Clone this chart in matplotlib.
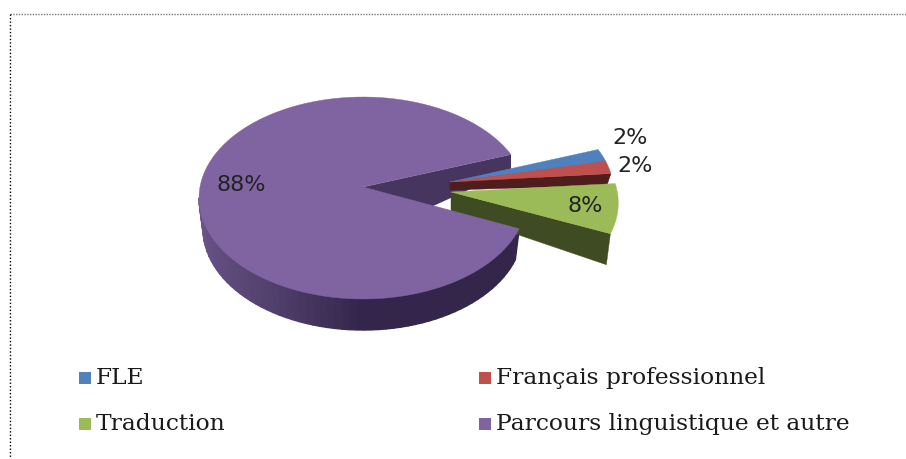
"""Exploded pseudo-3D pie of course choices, drawn with plain polygons."""
import matplotlib
matplotlib.use("Agg")
import matplotlib.pyplot as plt
import numpy as np
from matplotlib.colors import to_rgb
from matplotlib.patches import Polygon, Rectangle

labels = ["FLE", "Français professionnel", "Traduction", "Parcours linguistique et autre"]
values = [2, 2, 8, 88]
pct_labels = ["2%", "2%", "8%", "88%"]

top_colors = ["#4f81bd", "#c0504d", "#9bbb59", "#8064a2"]
side_colors = ["#1f3a5c", "#4f1d1c", "#3f4b22", "#33264a"]
rim_light = "#6a5488"
back_color = "#46365f"

# apex of each slice on the picture (slices are pulled apart by hand)
apex = [(450, 182), (450, 182), (451, 192), (363, 187)]
# the small slices are cut off by their neighbour, so little of the side shows
side_depth = [8, 12, 31, 31]
apex_depth = [6, 8, 20, 20]
rx_scale = [1, 1, 1.02, 1]
label_pos = [(630, 138), (635, 166), (585, 206), (241, 185)]

RX, RY = 164, 101
APEX_DY = 11
SHRINK = 0.975  # the lower rim is a bit narrower, perspective
START = 25.5


def edge_pts(ap, a0, a1, scale=1, n=120):
    t = np.radians(np.linspace(a0, a1, n))
    return np.column_stack([ap[0] + RX * scale * np.cos(t), ap[1] + APEX_DY - RY * np.sin(t)])


def drop(pt, ap, depth):
    return np.array([ap[0] + (pt[0] - ap[0]) * SHRINK, pt[1] + depth])


def shade(a, b, f):
    ca, cb = to_rgb(a), to_rgb(b)
    return tuple(x + (y - x) * f for x, y in zip(ca, cb))


fig = plt.figure(figsize=(9.06, 4.59), dpi=100)
ax = fig.add_axes([0, 0, 1, 1])
ax.set_xlim(0, 906)
ax.set_ylim(459, 0)
ax.axis("off")

# page frame, only top and left show
ax.plot([10, 906], [14, 14], color="#777777", lw=1, ls=(0, (1, 1)))
ax.plot([10, 10], [14, 459], color="black", lw=1, ls=(0, (1, 1.5)))

angles = START - np.cumsum([0] + values) * 3.6

# purple first, it sits behind the others
for i in [3, 0, 1, 2]:
    a0, a1 = angles[i], angles[i + 1]
    ap = apex[i]
    pts = edge_pts(ap, a0, a1, rx_scale[i])
    d = side_depth[i]
    pe = pts[-1]
    if i == 3:
        # inner cut of the big slice, its lower edge runs under the top face
        ax.add_patch(Polygon([ap, pe, pe + [0, 16], (ap[0], ap[1] + 51)],
                             fc=back_color, ec="none", zorder=2))
        # rim, light on the left and dark from the front on
        for j in range(len(pts) - 1):
            s = np.degrees(np.arctan2(ap[1] + APEX_DY - pts[j][1], pts[j][0] - ap[0])) % 360
            if not 180 <= s <= 360:
                continue
            col = shade(rim_light, side_colors[3], min((s - 185) / 85, 1) if s > 185 else 0)
            quad = [pts[j], pts[j + 1], drop(pts[j + 1], ap, d), drop(pts[j], ap, d)]
            ax.add_patch(Polygon(quad, fc=col, ec=col, lw=1.0, zorder=3))
    else:
        # front cut face
        ax.add_patch(Polygon([ap, pe, drop(pe, ap, d), (ap[0], ap[1] + apex_depth[i])],
                             fc=side_colors[i], ec=side_colors[i], lw=0.3, zorder=3 + i / 10))
    ax.add_patch(Polygon(np.vstack([ap, pts]), fc=top_colors[i], ec=top_colors[i],
                         lw=0.3, zorder=5 + (i if i < 3 else -1)))

for txt, pos in zip(pct_labels, label_pos):
    ax.text(pos[0], pos[1], txt, fontsize=16, family="DejaVu Sans", color="#222222",
            ha="center", va="center", zorder=10)

# legend by hand to keep the two column layout
leg_x = [96, 496, 96, 496]
leg_y = [378, 378, 424, 424]
for lab, col, x, y in zip(labels, top_colors, leg_x, leg_y):
    ax.add_patch(Rectangle((x - 17, y - 6), 12, 12, fc=col, ec="none", zorder=6))
    ax.text(x, y, lab, fontsize=16.8, family="DejaVu Serif", color="#1a1a1a",
            ha="left", va="center", zorder=10)

fig.savefig("out.png", dpi=100)
